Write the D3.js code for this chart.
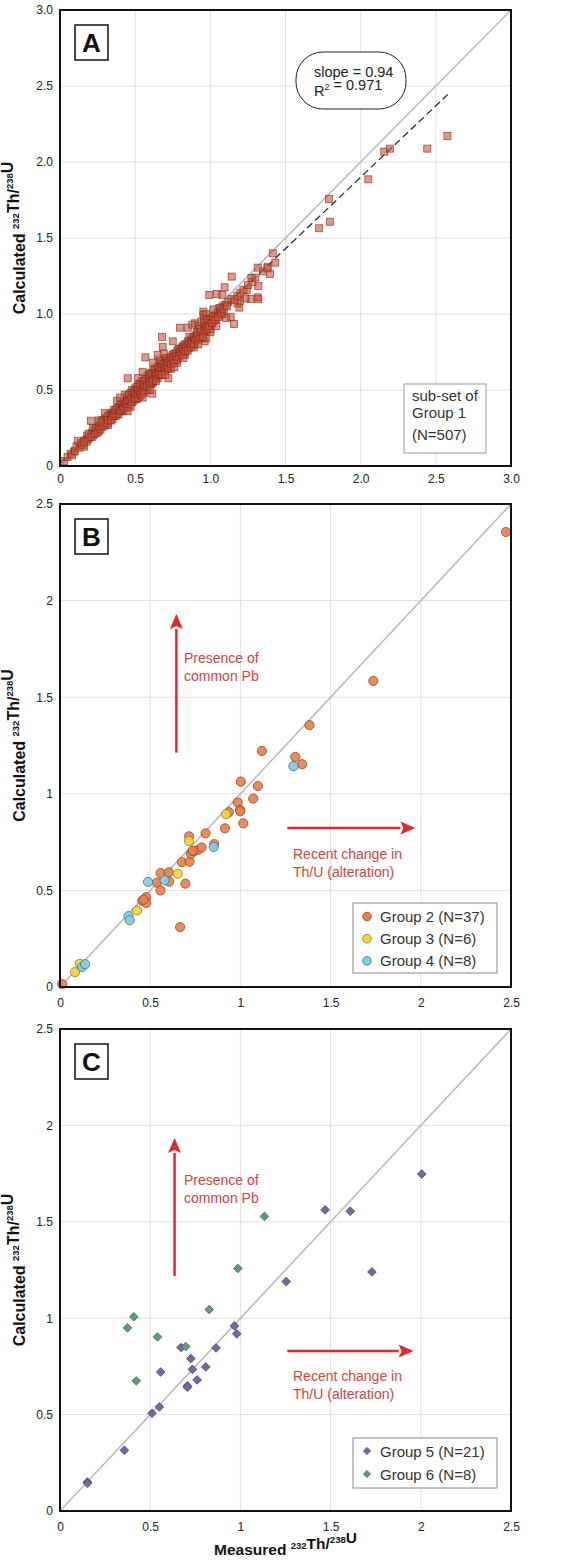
<!DOCTYPE html>
<html>
<head>
<meta charset="utf-8">
<script src="https://cdn.jsdelivr.net/npm/d3@7"></script>
<style>
  body { margin: 0; background: #fff; }
  svg { display: block; font-family: Arial, "Liberation Sans", sans-serif; }
</style>
</head>
<body>
<div id="chart"></div>
<script>
// Panel A: sub-set of Group 1, [measured, calculated]
const group1 = [
  [2.577,2.171],[2.443,2.088],[2.157,2.068],[2.195,2.088],[2.051,1.886],[1.789,1.757],
  [1.723,1.564],[1.796,1.607],[1.415,1.399],[1.432,1.338],[1.397,1.263],[1.381,1.311],
  [1.315,1.305],[1.319,1.184],[1.315,1.110],[1.319,1.097],[1.273,1.237],[1.268,1.099],
  [1.242,1.158],[1.233,1.103],[1.197,1.086],[1.193,1.042],[1.180,1.070],[1.142,1.246],
  [1.095,1.176],[1.157,0.934],[1.135,0.982],[1.104,0.974],[1.042,1.132],[0.993,1.125],
  [1.080,1.125],[0.954,1.016],[0.954,0.995],[1.002,0.899],[0.962,0.820],[0.898,0.939],
  [0.798,0.910],[0.679,0.849],[0.683,0.785],[0.568,0.715],[0.450,0.577],[0.614,0.476],
  [0.721,0.577],[0.206,0.298],[0.120,0.166],[0.160,0.127],[0.029,0.033],[0.093,0.094],
  [0.05,0.06],[0.07,0.08],[0.08,0.07],[0.10,0.10],[0.11,0.13],[0.13,0.12],[0.14,0.15],
  [0.15,0.14],[0.17,0.17],[0.18,0.16],[0.20,0.19],[0.21,0.22],[0.22,0.20],[0.23,0.24],
  [0.24,0.22],[0.25,0.25],[0.26,0.23],[0.27,0.27],[0.28,0.26],[0.28,0.30],[0.29,0.28],
  [0.30,0.27],[0.30,0.31],[0.31,0.29],[0.32,0.33],[0.33,0.30],[0.33,0.34],[0.34,0.32],
  [0.35,0.31],[0.35,0.35],[0.36,0.37],[0.36,0.33],[0.37,0.35],[0.38,0.38],[0.38,0.34],
  [0.39,0.36],[0.40,0.40],[0.40,0.37],[0.41,0.39],[0.42,0.36],[0.42,0.42],[0.43,0.40],
  [0.44,0.38],[0.44,0.43],[0.45,0.41],[0.45,0.46],[0.46,0.44],[0.46,0.40],[0.47,0.42],
  [0.47,0.48],[0.48,0.45],[0.48,0.50],[0.49,0.43],[0.49,0.47],[0.50,0.46],[0.50,0.51],
  [0.51,0.49],[0.51,0.44],[0.52,0.48],[0.52,0.53],[0.53,0.50],[0.53,0.46],[0.54,0.52],
  [0.54,0.55],[0.55,0.49],[0.55,0.53],[0.56,0.51],[0.56,0.56],[0.57,0.54],[0.57,0.50],
  [0.58,0.55],[0.58,0.59],[0.59,0.53],[0.59,0.57],[0.60,0.56],[0.60,0.61],[0.61,0.54],
  [0.61,0.58],[0.62,0.60],[0.62,0.63],[0.63,0.57],[0.63,0.61],[0.64,0.59],[0.64,0.64],
  [0.65,0.62],[0.65,0.58],[0.66,0.60],[0.66,0.66],[0.67,0.63],[0.67,0.68],[0.68,0.62],
  [0.68,0.65],[0.69,0.67],[0.69,0.63],[0.70,0.66],[0.70,0.70],[0.71,0.64],[0.71,0.68],
  [0.72,0.69],[0.72,0.66],[0.73,0.71],[0.73,0.67],[0.74,0.70],[0.75,0.73],[0.75,0.68],
  [0.76,0.71],[0.77,0.74],[0.77,0.70],[0.78,0.72],[0.78,0.76],[0.79,0.74],[0.80,0.73],
  [0.80,0.77],[0.81,0.76],[0.82,0.75],[0.82,0.79],[0.83,0.78],[0.84,0.76],[0.84,0.80],
  [0.85,0.79],[0.86,0.81],[0.86,0.78],[0.87,0.83],[0.88,0.80],[0.88,0.84],[0.89,0.82],
  [0.90,0.85],[0.90,0.81],[0.91,0.86],[0.92,0.83],[0.93,0.88],[0.94,0.86],[0.95,0.90],
  [0.95,0.87],[0.96,0.92],[0.97,0.89],[0.98,0.93],[0.99,0.95],[1.00,0.93],[1.01,0.97],
  [1.02,0.95],[1.03,0.99],[1.04,0.97],[1.05,1.01],[1.06,0.99],[1.07,1.03],[1.08,1.05],
  [1.10,1.06],[1.12,1.08],[1.14,1.10],[1.16,1.09],[1.18,1.12],[1.20,1.14],[1.22,1.16],
  [1.25,1.19],[1.28,1.21],[1.30,1.24],[1.35,1.28],[1.38,1.30],
  [0.43,0.47],[0.52,0.58],[0.58,0.50],[0.62,0.55],[0.66,0.70],[0.69,0.74],[0.74,0.64],
  [0.78,0.68],[0.83,0.73],[0.86,0.85],[0.89,0.78],[0.92,0.92],[0.97,0.84],[0.94,0.95],
  [1.00,0.88],[1.04,0.92],[0.32,0.27],[0.38,0.43],[0.26,0.30],[0.22,0.25],[0.18,0.20],
  [1.06,1.04],[1.08,1.00],[1.02,1.03],[0.97,1.00],[0.96,0.97],
  [0.16,0.16],[0.19,0.18],[0.19,0.21],[0.21,0.19],[0.23,0.21],[0.24,0.25],[0.25,0.22],
  [0.26,0.26],[0.27,0.24],[0.27,0.29],[0.29,0.26],[0.29,0.30],[0.31,0.32],[0.31,0.28],
  [0.32,0.30],[0.34,0.34],[0.34,0.30],[0.35,0.33],[0.36,0.35],[0.37,0.33],[0.37,0.37],
  [0.39,0.38],[0.39,0.34],[0.40,0.36],[0.41,0.41],[0.41,0.37],[0.42,0.39],[0.43,0.38],
  [0.43,0.42],[0.44,0.41],[0.45,0.39],[0.45,0.43],[0.46,0.47],[0.47,0.44],[0.47,0.39],
  [0.48,0.42],[0.49,0.49],[0.49,0.45],[0.50,0.44],[0.50,0.48],[0.51,0.52],[0.51,0.47],
  [0.52,0.45],[0.52,0.50],[0.53,0.48],[0.53,0.54],[0.54,0.49],[0.54,0.47],[0.55,0.51],
  [0.55,0.56],[0.56,0.53],[0.56,0.48],[0.57,0.52],[0.57,0.57],[0.58,0.53],[0.59,0.55],
  [0.59,0.60],[0.60,0.54],[0.60,0.58],[0.61,0.56],[0.61,0.61],[0.62,0.57],[0.63,0.59],
  [0.63,0.64],[0.64,0.56],[0.64,0.61],[0.65,0.60],[0.65,0.65],[0.66,0.62],[0.67,0.60],
  [0.67,0.65],[0.68,0.67],[0.68,0.60],[0.69,0.65],[0.70,0.63],[0.70,0.68],[0.71,0.66],
  [0.71,0.71],[0.72,0.64],[0.72,0.68],[0.73,0.69],[0.74,0.67],[0.74,0.72],[0.75,0.70],
  [0.76,0.68],[0.76,0.74],[0.77,0.72],[0.78,0.70],[0.79,0.72],[0.79,0.77],[0.80,0.75],
  [0.81,0.73],[0.81,0.78],[0.82,0.77],[0.83,0.75],[0.83,0.80],[0.84,0.78],[0.85,0.76],
  [0.85,0.82],[0.86,0.80],[0.87,0.78],[0.87,0.81],[0.88,0.82],[0.89,0.85],[0.89,0.80],
  [0.90,0.83],[0.91,0.84],[0.91,0.88],[0.92,0.86],[0.93,0.84],[0.93,0.90],[0.94,0.88],
  [0.95,0.85],[0.96,0.89],[0.96,0.94],[0.97,0.91],[0.98,0.90],[0.98,0.96],[0.99,0.92],
  [1.00,0.96],[1.01,0.94],[1.02,0.98],[1.03,0.96],[1.05,0.98],[1.07,1.01],[1.09,1.03],
  [1.11,1.05],
  [0.30,0.35],[0.40,0.45],[0.55,0.62],[0.62,0.68],[0.65,0.73],[0.75,0.82],[0.85,0.91],
  [0.88,0.93],[0.45,0.36],[0.55,0.45],[0.60,0.50],[0.70,0.60],[0.76,0.65],[0.82,0.71],
  [0.92,0.80]
];
const fitA = [[0, 0.02], [2.58, 2.445]];

// Panel B
const group2 = [
  [0.012,0.015],[0.456,0.446],[0.478,0.465],[0.478,0.435],[0.537,0.540],[0.557,0.500],
  [0.558,0.590],[0.605,0.545],[0.603,0.594],[0.695,0.535],[0.676,0.646],[0.718,0.648],
  [0.666,0.310],[0.716,0.780],[0.726,0.690],[0.742,0.703],[0.766,0.710],[0.785,0.722],
  [0.807,0.795],[0.855,0.740],[0.914,0.821],[0.936,0.905],[0.985,0.955],[0.998,0.917],
  [1.000,0.910],[1.016,0.847],[1.071,0.975],[1.097,1.040],[1.002,1.063],[1.119,1.222],
  [1.304,1.191],[1.342,1.153],[1.383,1.355],[1.737,1.584],[2.472,2.355],[0.463,0.452],
  [0.735,0.705]
];
const group3 = [[0.083,0.077],[0.110,0.120],[0.427,0.396],[0.652,0.586],[0.715,0.756],[0.920,0.895]];
const group4 = [[0.122,0.104],[0.139,0.118],[0.380,0.367],[0.386,0.346],[0.488,0.544],[0.580,0.553],[0.852,0.725],[1.294,1.143]];

// Panel C
const group5 = [
  [1.470,1.562],[1.609,1.555],[1.729,1.240],[1.254,1.190],[0.967,0.960],[0.980,0.919],
  [0.865,0.846],[0.671,0.848],[0.725,0.791],[0.734,0.735],[0.808,0.747],[0.760,0.680],
  [0.706,0.649],[0.706,0.642],[0.558,0.721],[0.551,0.540],[0.510,0.507],[0.357,0.315],
  [0.152,0.150],[0.152,0.144],[2.005,1.748]
];
const group6 = [[1.133,1.528],[0.986,1.258],[0.827,1.045],[0.409,1.007],[0.374,0.950],[0.540,0.903],[0.697,0.853],[0.423,0.675]];

const ticksA = [0, 0.5, 1, 1.5, 2, 2.5, 3];
const ticksBC = [0, 0.5, 1, 1.5, 2, 2.5];

const width = 575;
const height = 1561;
const left = 60;
const right = 511;
const red = "#e5262b";
const noteRed = "#d4433f";

const svg = d3.select("#chart")
  .append("svg")
  .attr("width", width)
  .attr("height", height);

const supLabel = (text, parts, size) => {
  parts.forEach(p => {
    if (p.sup) {
      text.append("tspan").attr("font-size", size).attr("dy", -6).text(p.t);
      text.append("tspan").attr("dy", 6).text("");
    } else {
      text.append("tspan").text(p.t);
    }
  });
};

const drawPanel = (p) => {
  const x = d3.scaleLinear().domain([0, p.max]).range([left, right]);
  const y = d3.scaleLinear().domain([0, p.max]).range([p.bottom, p.top]);
  const g = svg.append("g");

  g.selectAll(".gx").data(p.ticks).enter().append("line")
    .attr("x1", d => x(d)).attr("x2", d => x(d))
    .attr("y1", p.top).attr("y2", p.bottom)
    .attr("stroke", "#e0e0e0");
  g.selectAll(".gy").data(p.ticks).enter().append("line")
    .attr("x1", left).attr("x2", right)
    .attr("y1", d => y(d)).attr("y2", d => y(d))
    .attr("stroke", "#e0e0e0");

  g.append("line")
    .attr("x1", x(0)).attr("y1", y(0)).attr("x2", x(p.max)).attr("y2", y(p.max))
    .attr("stroke", "#b8b8b8").attr("stroke-width", 1.5);

  const ax = g.append("g")
    .attr("transform", `translate(0,${p.bottom})`)
    .call(d3.axisBottom(x).tickValues(p.ticks).tickFormat(p.fmt).tickSize(0).tickPadding(p.pad));
  ax.select(".domain").remove();
  ax.attr("font-size", 12).attr("font-family", "Arial, 'Liberation Sans', sans-serif");
  ax.selectAll("text").attr("fill", "#222");

  const ay = g.append("g")
    .attr("transform", `translate(${left},0)`)
    .call(d3.axisLeft(y).tickValues(p.ticks).tickFormat(p.fmt).tickSize(0).tickPadding(7));
  ay.select(".domain").remove();
  ay.attr("font-size", 12).attr("font-family", "Arial, 'Liberation Sans', sans-serif");
  ay.selectAll("text").attr("fill", "#222");

  const yl = g.append("text")
    .attr("transform", `translate(25,${(p.top + p.bottom) / 2}) rotate(-90)`)
    .attr("text-anchor", "middle")
    .attr("font-size", 16).attr("font-weight", "bold").attr("fill", "#111");
  supLabel(yl, [{t: "Calculated "}, {t: "232", sup: true}, {t: "Th/"}, {t: "238", sup: true}, {t: "U"}], 9.5);

  return {g, x, y, p};
};

const finishPanel = (P, letter) => {
  const {g, p} = P;
  g.append("rect")
    .attr("x", left).attr("y", p.top)
    .attr("width", right - left).attr("height", p.bottom - p.top)
    .attr("fill", "none").attr("stroke", "#111").attr("stroke-width", 2);
  g.append("rect")
    .attr("x", 75).attr("y", p.top + 15)
    .attr("width", 33).attr("height", 35)
    .attr("fill", "#fff").attr("stroke", "#111").attr("stroke-width", 1.5);
  g.append("text")
    .attr("x", 91.5).attr("y", p.top + 42)
    .attr("text-anchor", "middle")
    .attr("font-size", 26).attr("font-weight", "bold").attr("fill", "#111")
    .text(letter);
};

const drawArrows = (P, arrows) => {
  const {g, x, y} = P;
  arrows.forEach(a => {
    const x1 = x(a.from[0]), y1 = y(a.from[1]), x2 = x(a.to[0]), y2 = y(a.to[1]);
    const ang = Math.atan2(y2 - y1, x2 - x1);
    const L = 15, Wd = 6.5;
    const bx = x2 - L * Math.cos(ang), by = y2 - L * Math.sin(ang);
    g.append("line")
      .attr("x1", x1).attr("y1", y1).attr("x2", bx).attr("y2", by)
      .attr("stroke", red).attr("stroke-width", 2.5);
    g.append("path")
      .attr("d", `M${x2},${y2}L${bx + Wd * Math.sin(ang)},${by - Wd * Math.cos(ang)}L${bx + 3 * Math.cos(ang)},${by + 3 * Math.sin(ang)}L${bx - Wd * Math.sin(ang)},${by + Wd * Math.cos(ang)}Z`)
      .attr("fill", red);
  });
};

const drawNote = (g, lines, x0, y0) => {
  lines.forEach((t, i) => {
    g.append("text")
      .attr("x", x0).attr("y", y0 + i * 18)
      .attr("font-size", 14).attr("fill", noteRed)
      .text(t);
  });
};

// ---------- Panel A ----------
const A = drawPanel({top: 10, bottom: 466, max: 3, ticks: ticksA, pad: 8,
  fmt: d => d === 0 ? "0" : d.toFixed(1)});

A.g.append("line")
  .attr("x1", A.x(fitA[0][0])).attr("y1", A.y(fitA[0][1]))
  .attr("x2", A.x(fitA[1][0])).attr("y2", A.y(fitA[1][1]))
  .attr("stroke", "#222").attr("stroke-width", 1.2).attr("stroke-dasharray", "7,4");

A.g.selectAll("rect.pt").data(group1).enter().append("rect")
  .attr("x", d => A.x(d[0]) - 3.5).attr("y", d => A.y(d[1]) - 3.5)
  .attr("width", 7).attr("height", 7)
  .attr("fill", "rgba(208,82,56,0.6)")
  .attr("stroke", "rgba(120,45,32,0.75)").attr("stroke-width", 0.8);

A.g.append("rect")
  .attr("x", 296).attr("y", 52).attr("width", 110).attr("height", 57)
  .attr("rx", 27).attr("ry", 27)
  .attr("fill", "#fff").attr("stroke", "#222").attr("stroke-width", 1);
A.g.append("text").attr("x", 314).attr("y", 77).attr("font-size", 14.5).attr("fill", "#222").text("slope = 0.94");
const r2 = A.g.append("text").attr("x", 314).attr("y", 96).attr("font-size", 14.5).attr("fill", "#222");
supLabel(r2, [{t: "R"}, {t: "2", sup: true}, {t: " = 0.971"}], 9);

A.g.append("rect")
  .attr("x", 404).attr("y", 384).attr("width", 82).attr("height", 69)
  .attr("fill", "#fff").attr("stroke", "#999").attr("stroke-width", 1);
["sub-set of", "Group 1", "(N=507)"].forEach((t, i) => {
  A.g.append("text").attr("x", 412).attr("y", [401, 418, 440][i])
    .attr("font-size", 15).attr("fill", "#333").text(t);
});
finishPanel(A, "A");

// ---------- Panel B ----------
const B = drawPanel({top: 504, bottom: 987, max: 2.5, ticks: ticksBC, pad: 11.5, fmt: d => String(d)});
drawArrows(B, [{from: [0.645, 1.213], to: [0.645, 1.93]}, {from: [1.26, 0.823], to: [1.97, 0.823]}]);
drawNote(B.g, ["Presence of", "common Pb"], 184, 663);
drawNote(B.g, ["Recent change in", "Th/U (alteration)"], 293, 859);

const circleSets = [
  {data: group2, fill: "#e9814b", stroke: "#8c4a2a", label: "Group 2 (N=37)"},
  {data: group3, fill: "#f6d43b", stroke: "#8a7a2a", label: "Group 3 (N=6)"},
  {data: group4, fill: "#80cde6", stroke: "#3f7080", label: "Group 4 (N=8)"}
];
circleSets.forEach(s => {
  B.g.selectAll(null).data(s.data).enter().append("circle")
    .attr("cx", d => B.x(d[0])).attr("cy", d => B.y(d[1])).attr("r", 4.6)
    .attr("fill", s.fill).attr("fill-opacity", 0.92)
    .attr("stroke", s.stroke).attr("stroke-width", 0.8);
});
B.g.append("rect").attr("x", 353).attr("y", 903).attr("width", 144).attr("height", 70)
  .attr("fill", "#fff").attr("stroke", "#888").attr("stroke-width", 1);
circleSets.forEach((s, i) => {
  const cy = 916.5 + i * 22.2;
  B.g.append("circle").attr("cx", 367).attr("cy", cy).attr("r", 4.3)
    .attr("fill", s.fill).attr("stroke", s.stroke).attr("stroke-width", 0.8);
  B.g.append("text").attr("x", 380).attr("y", cy + 5.5).attr("font-size", 15).attr("fill", "#333").text(s.label);
});
finishPanel(B, "B");

// ---------- Panel C ----------
const C = drawPanel({top: 1029, bottom: 1511, max: 2.5, ticks: ticksBC, pad: 11.5, fmt: d => String(d)});
drawArrows(C, [{from: [0.635, 1.219], to: [0.635, 1.935]}, {from: [1.26, 0.83], to: [1.96, 0.83]}]);
drawNote(C.g, ["Presence of", "common Pb"], 184, 1185);
drawNote(C.g, ["Recent change in", "Th/U (alteration)"], 293, 1381);

const diamond = d3.symbol().type(d3.symbolSquare);
const diamondSets = [
  {data: group5, fill: "#7b63a4", stroke: "#4a3a6c", label: "Group 5 (N=21)"},
  {data: group6, fill: "#5e9d73", stroke: "#3a6a4a", label: "Group 6 (N=8)"}
];
diamondSets.forEach(s => {
  C.g.selectAll(null).data(s.data).enter().append("path")
    .attr("d", diamond.size(38)())
    .attr("transform", d => `translate(${C.x(d[0])},${C.y(d[1])}) rotate(45)`)
    .attr("fill", s.fill).attr("stroke", s.stroke).attr("stroke-width", 0.7);
});
C.g.append("rect").attr("x", 353).attr("y", 1438).attr("width", 144).attr("height", 50)
  .attr("fill", "#fff").attr("stroke", "#888").attr("stroke-width", 1);
diamondSets.forEach((s, i) => {
  const cy = 1451 + i * 23;
  C.g.append("path").attr("d", diamond.size(26)())
    .attr("transform", `translate(367,${cy}) rotate(45)`)
    .attr("fill", s.fill).attr("stroke", s.stroke).attr("stroke-width", 0.7);
  C.g.append("text").attr("x", 380).attr("y", cy + 5.5).attr("font-size", 15).attr("fill", "#333").text(s.label);
});
finishPanel(C, "C");

const xl = svg.append("text")
  .attr("x", (left + right) / 2).attr("y", 1555)
  .attr("text-anchor", "middle")
  .attr("font-size", 15.5).attr("font-weight", "bold").attr("fill", "#111");
supLabel(xl, [{t: "Measured "}, {t: "232", sup: true}, {t: "Th/"}, {t: "238", sup: true}, {t: "U"}], 9.5);
</script>
</body>
</html>
